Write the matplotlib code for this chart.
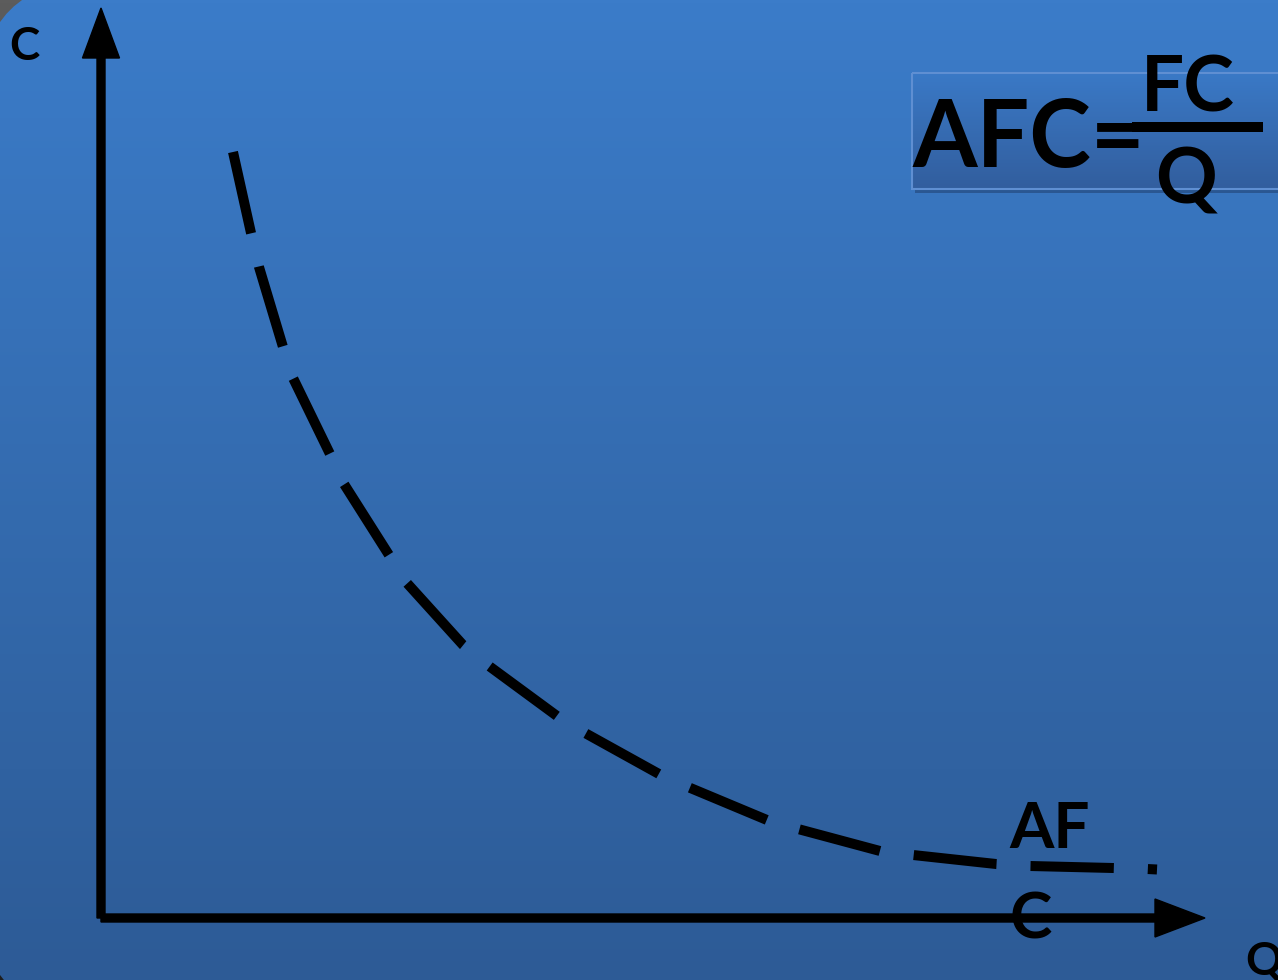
import numpy as np
import matplotlib.pyplot as plt
from matplotlib.patches import FancyBboxPatch, Rectangle

plt.rcParams['font.family'] = ['Lato', 'DejaVu Sans']
plt.rcParams['lines.scale_dashes'] = False

# AFC curve (Q, C)
q_vals = [1.32, 1.50, 1.58, 1.82, 1.92, 2.29, 2.43, 2.88, 3.05, 3.62, 3.88, 4.56,
          4.84, 5.58, 5.87, 6.66, 6.97, 7.79, 8.12, 8.95, 9.29, 10.12, 10.46, 10.56]
c_vals = [7.66, 6.85, 6.51, 5.71, 5.40, 4.64, 4.34, 3.63, 3.36, 2.73, 2.52, 2.02,
          1.85, 1.44, 1.31, 0.98, 0.89, 0.67, 0.63, 0.54, 0.52, 0.50, 0.49, 0.485]

W, H = 1278, 980
fig = plt.figure(figsize=(W / 100, H / 100), dpi=100)

# background in pixel coordinates
bg = fig.add_axes([0, 0, 1, 1])
bg.set_xlim(0, W)
bg.set_ylim(H, 0)
bg.axis('off')

def vgrad(top, bottom, n=256):
    t = np.linspace(0, 1, n)[:, None, None]
    return (np.array(top)[None, None, :] * (1 - t) + np.array(bottom)[None, None, :] * t) / 255

bg.imshow(vgrad((92, 92, 92), (30, 30, 30)), extent=[0, W, H, 0], aspect='auto', zorder=0)
slide = bg.imshow(vgrad((59, 124, 201), (45, 91, 150)), extent=[0, W, H, 0], aspect='auto', zorder=1)
clip = FancyBboxPatch((-20, -20), 1400, 1037, boxstyle='round,pad=0,rounding_size=120',
                      transform=bg.transData, facecolor='none', edgecolor='none')
bg.add_patch(clip)
slide.set_clip_path(clip)

# formula box
bg.add_patch(Rectangle((915, 77), 400, 116, facecolor='#1d3a66', alpha=0.5, edgecolor='none', zorder=2))
bg.imshow(vgrad((58, 121, 198), (50, 94, 158)), extent=[912, 1300, 189, 73], aspect='auto', zorder=3)
bg.add_patch(Rectangle((912, 73), 400, 116, facecolor='none', edgecolor='#5f8fd2', lw=1.5, zorder=4))
bg.set_xlim(0, W)
bg.set_ylim(H, 0)

bg.text(913, 167, 'AFC=', fontsize=67, fontweight='bold', color='black', va='baseline', ha='left', zorder=5)
bg.plot([1132, 1263], [127, 127], color='black', lw=7.2, solid_capstyle='butt', zorder=5)
bg.text(1141, 112, 'FC', fontsize=55, fontweight='bold', color='black', va='baseline', ha='left', zorder=5)
bg.text(1155, 203, 'Q', fontsize=55, fontweight='bold', color='black', va='baseline', ha='left', zorder=5)

# axis labels and curve label
bg.text(9, 60, 'C', fontsize=33, fontweight='bold', color='black', va='baseline', ha='left', zorder=5)
bg.text(1245, 975, 'Q', fontsize=33, fontweight='bold', color='black', va='baseline', ha='left', zorder=5)
bg.text(1009, 848, 'AF', fontsize=46, fontweight='bold', color='black', va='baseline', ha='left', zorder=5)
bg.text(1010, 938, 'C', fontsize=46, fontweight='bold', color='black', va='baseline', ha='left', zorder=5)

# the chart itself
ax = fig.add_axes([0, 0, 1, 1])
ax.set_facecolor('none')
ax.set_xlim(-1.01, 11.77)
ax.set_ylim(-0.62, 9.18)
ax.axis('off')

ax.arrow(0, 0, 0, 9.10, width=0.08, head_width=0.37, head_length=0.50,
         length_includes_head=True, color='black', zorder=3)
ax.arrow(0, 0, 11.04, 0, width=0.08, head_width=0.38, head_length=0.50,
         length_includes_head=True, color='black', zorder=3)

ax.plot(q_vals, c_vals, color='black', lw=7.2, dashes=(60, 24.5), dash_capstyle='butt', zorder=4)

fig.savefig('out.png', dpi=100)
